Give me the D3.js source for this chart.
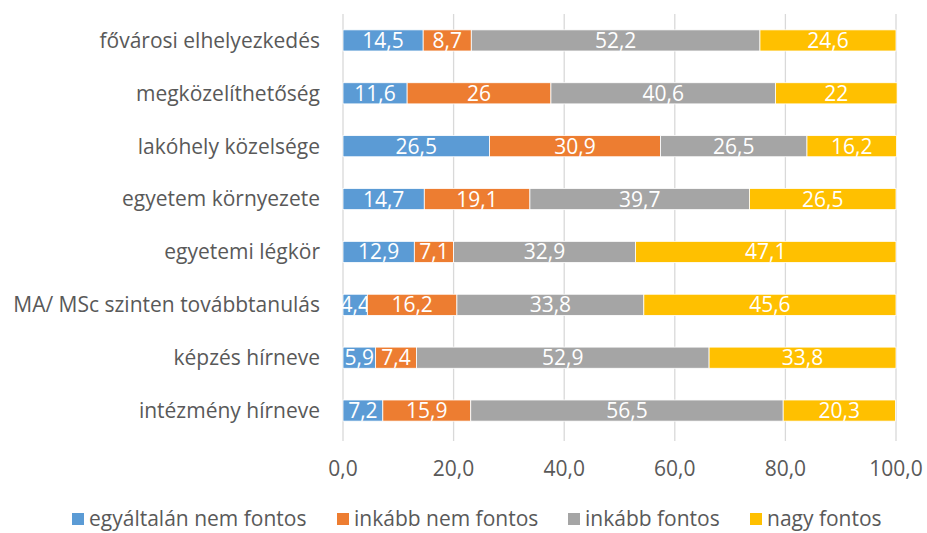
<!DOCTYPE html>
<html>
<head>
<meta charset="utf-8">
<script src="https://cdn.jsdelivr.net/npm/d3@7"></script>
<style>
  body { margin: 0; background: #fff; }
  text { font-family: "Open Sans", sans-serif; }
</style>
</head>
<body>
<div id="chart"></div>
<script>
// categories top to bottom
var categories = ["fővárosi elhelyezkedés", "megközelíthetőség", "lakóhely közelsége", "egyetem környezete",
  "egyetemi légkör", "MA/ MSc szinten továbbtanulás", "képzés hírneve", "intézmény hírneve"];
var seriesNames = ["egyáltalán nem fontos", "inkább nem fontos", "inkább fontos", "nagy fontos"];
var notImportant = [14.5, 11.6, 26.5, 14.7, 12.9, 4.4, 5.9, 7.2];
var ratherNot = [8.7, 26, 30.9, 19.1, 7.1, 16.2, 7.4, 15.9];
var ratherYes = [52.2, 40.6, 26.5, 39.7, 32.9, 33.8, 52.9, 56.5];
var veryImportant = [24.6, 22, 16.2, 26.5, 47.1, 45.6, 33.8, 20.3];
var xTicks = [0, 20, 40, 60, 80, 100];
var colors = ["#5B9BD5", "#ED7D31", "#A5A5A5", "#FFC000"];

var width = 927, height = 533;
var margin = {top: 14, right: 31, bottom: 96, left: 343};
var fs = 21;

var svg = d3.select("#chart").append("svg")
    .attr("width", width)
    .attr("height", height);

var rows = categories.map(function(c, i) {
    return {cat: c, s0: notImportant[i], s1: ratherNot[i], s2: ratherYes[i], s3: veryImportant[i]};
});
var stack = d3.stack().keys(["s0", "s1", "s2", "s3"])(rows);

var x = d3.scaleLinear().domain([0, 100]).range([margin.left, width - margin.right]);
var y = d3.scaleBand().domain(categories).range([margin.top, height - margin.bottom]).paddingInner(0.6).paddingOuter(0.3);

// gridlines
svg.append("g").selectAll("line").data(xTicks).join("line")
    .attr("x1", d => x(d)).attr("x2", d => x(d))
    .attr("y1", margin.top).attr("y2", height - margin.bottom + 4)
    .attr("stroke", "#D9D9D9").attr("stroke-width", 1.3);

// x tick labels
svg.append("g").selectAll("text").data(xTicks).join("text")
    .attr("x", d => x(d)).attr("y", 469)
    .attr("dy", "0.35em")
    .attr("text-anchor", "middle")
    .attr("font-size", fs).attr("fill", "#595959")
    .text(d => d3.format(".1f")(d).replace(".", ","));

// category labels
svg.append("g").selectAll("text").data(categories).join("text")
    .attr("x", margin.left - 23).attr("y", d => y(d) + y.bandwidth() / 2)
    .attr("dy", "0.35em").attr("text-anchor", "end")
    .attr("font-size", fs).attr("fill", "#595959")
    .text(d => d);

// bars
var layers = svg.append("g").selectAll("g").data(stack).join("g")
    .attr("fill", (d, i) => colors[i]);

layers.selectAll("rect").data(d => d).join("rect")
    .attr("x", d => x(d[0]))
    .attr("y", d => y(d.data.cat))
    .attr("width", d => x(d[1]) - x(d[0]))
    .attr("height", y.bandwidth())
    .attr("stroke", "#fff").attr("stroke-width", 0.8);

// value labels
layers.selectAll("text").data(d => d).join("text")
    .attr("x", d => (x(d[0]) + x(d[1])) / 2)
    .attr("y", d => y(d.data.cat) + y.bandwidth() / 2)
    .attr("dy", "0.36em").attr("text-anchor", "middle")
    .attr("font-size", fs).attr("fill", "#fff")
    .text(d => String(Math.round((d[1] - d[0]) * 10) / 10).replace(".", ","));

// legend (nudged up a little so descenders stay inside)
var legendX = [72, 337, 568, 750];
var legend = svg.append("g").selectAll("g").data(seriesNames).join("g")
    .attr("transform", (d, i) => "translate(" + legendX[i] + ",519)");
legend.append("rect")
    .attr("x", 0).attr("y", -6).attr("width", 12).attr("height", 12)
    .attr("fill", (d, i) => colors[i]);
legend.append("text")
    .attr("x", 17).attr("dy", "0.35em")
    .attr("font-size", fs).attr("fill", "#595959")
    .text(d => d);
</script>
</body>
</html>
